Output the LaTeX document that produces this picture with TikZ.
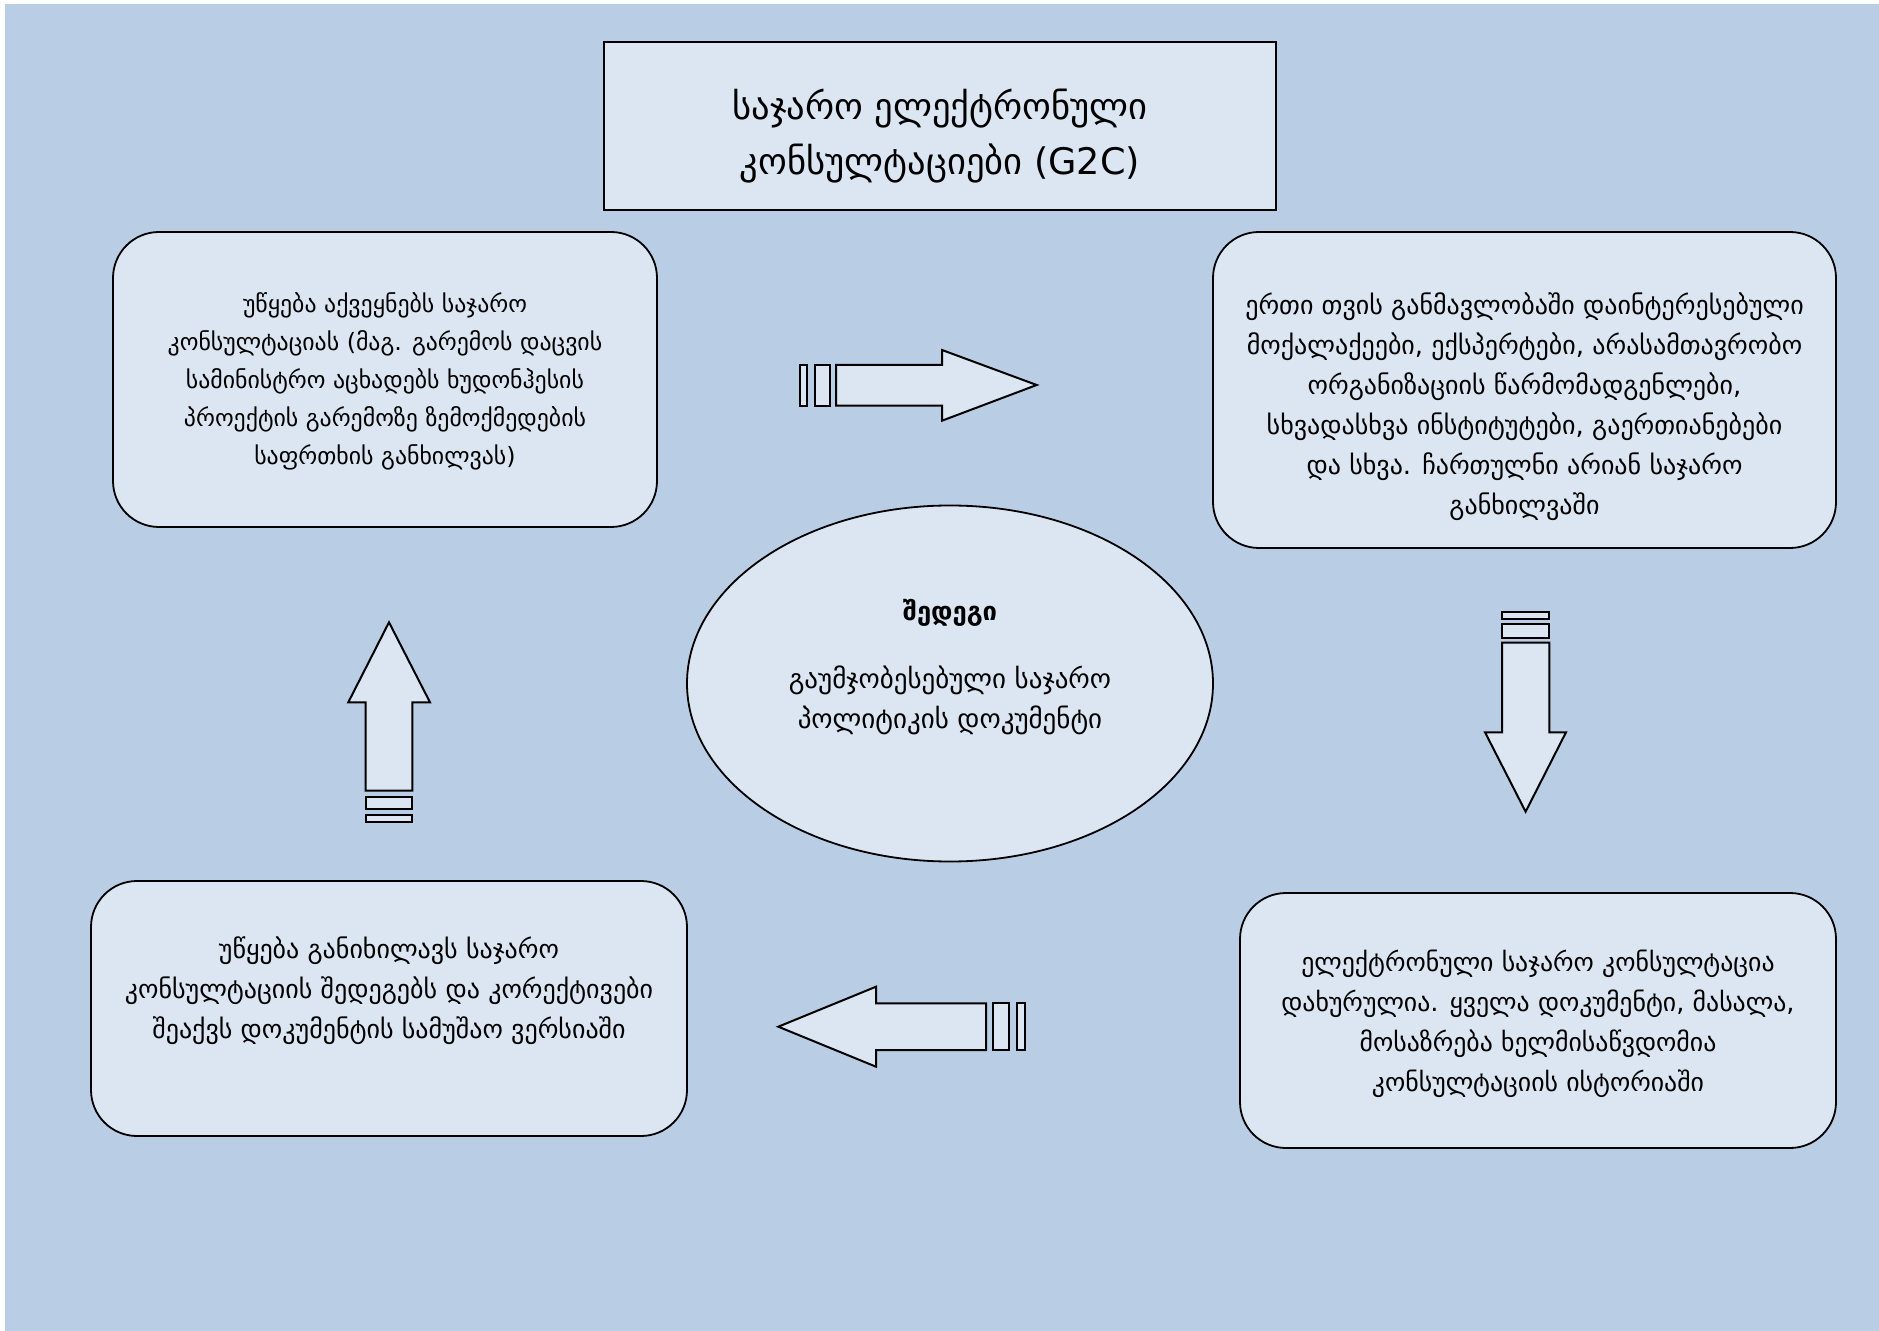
\documentclass[tikz,border=0pt]{standalone}
\usepackage{fontspec}
\newfontfamily\geo{DejaVu Sans}
\usetikzlibrary{shapes.geometric}
\definecolor{bgblue}{HTML}{B9CDE5}
\definecolor{boxfill}{HTML}{DCE6F2}
\tikzset{
  plainbox/.style={draw=black, line width=0.9pt, fill=boxfill, rectangle, inner sep=0pt},
  roundbox/.style={plainbox, rounded corners=23pt},
  oval/.style={draw=black, line width=0.9pt, fill=boxfill, ellipse, inner sep=0pt},
  txt/.style={align=center, font=\geo\fontsize{13}{20}\selectfont, inner sep=0pt},
  smalltxt/.style={align=center, font=\geo\fontsize{11.9}{19}\selectfont, inner sep=0pt},
  titletxt/.style={align=center, font=\geo\fontsize{18.3}{27.5}\selectfont, inner sep=0pt},
  blockarrow/.style={draw=black, line width=1pt, fill=boxfill, line join=miter},
}
\begin{document}
\begin{tikzpicture}[x=0.5pt, y=-0.5pt]
\useasboundingbox (0,0) rectangle (1879,1331);
\fill[bgblue] (5,4) rectangle (1879,1331);

% title
\node[plainbox, minimum width=336pt, minimum height=84pt] (title) at (940,126) {};
\node[titletxt] (titletext) at (940,136) {საჯარო ელექტრონული\\კონსულტაციები (G2C)};

% boxes
\node[roundbox, minimum width=272pt, minimum height=147.5pt] (tl) at (385,379.5) {};
\node[smalltxt] (tltext) at (385,381) {უწყება აქვეყნებს საჯარო\\კონსულტაციას (მაგ. გარემოს დაცვის\\სამინისტრო აცხადებს ხუდონჰესის\\პროექტის გარემოზე ზემოქმედების\\საფრთხის განხილვას)};

\node[roundbox, minimum width=311.5pt, minimum height=158pt] (tr) at (1524.5,390) {};
\node[txt] (trtext) at (1524.5,406.5) {ერთი თვის განმავლობაში დაინტერესებული\\მოქალაქეები, ექსპერტები, არასამთავრობო\\ორგანიზაციის წარმომადგენლები,\\სხვადასხვა ინსტიტუტები, გაერთიანებები\\და სხვა. ჩართულნი არიან საჯარო\\განხილვაში};

\node[roundbox, minimum width=298pt, minimum height=127.5pt] (bl) at (389,1008.5) {};
\node[txt] (bltext) at (389,991) {უწყება განიხილავს საჯარო\\კონსულტაციის შედეგებს და კორექტივები\\შეაქვს დოკუმენტის სამუშაო ვერსიაში};

\node[roundbox, minimum width=298pt, minimum height=127.5pt] (br) at (1538,1020.5) {};
\node[txt, font=\geo\fontsize{12.9}{20}\selectfont] (brtext) at (1538,1024) {ელექტრონული საჯარო კონსულტაცია\\დახურულია. ყველა დოკუმენტი, მასალა,\\მოსაზრება ხელმისაწვდომია\\კონსულტაციის ისტორიაში};

% ellipse
\node[oval, minimum width=263pt, minimum height=178pt] (res) at (950,683.5) {};
\node[txt, font=\geo\bfseries\fontsize{12.8}{20}\selectfont] (restitle) at (950,613) {შედეგი};
\node[txt, font=\geo\fontsize{13.5}{20}\selectfont] (restext) at (950,700) {გაუმჯობესებული საჯარო\\პოლიტიკის დოკუმენტი};

% right arrow (top)
\draw[blockarrow] (800,365) rectangle (807,405.7);
\draw[blockarrow] (815,365) rectangle (830,405.7);
\draw[blockarrow] (836,365) -- (942,365) -- (942,350) -- (1036.7,385) -- (942,420.7) -- (942,405.7) -- (836,405.7) -- cycle;

% down arrow (right)
\draw[blockarrow] (1502,612.3) rectangle (1549.3,619);
\draw[blockarrow] (1502,624) rectangle (1549.3,637.7);
\draw[blockarrow] (1502,642.7) -- (1549.3,642.7) -- (1549.3,732.3) -- (1566,732.3) -- (1525.6,811.7) -- (1485,732.3) -- (1502,732.3) -- cycle;

% left arrow (bottom)
\draw[blockarrow] (1016.7,1003.3) rectangle (1025,1050);
\draw[blockarrow] (993.3,1003.3) rectangle (1009.3,1050);
\draw[blockarrow] (986,1003.3) -- (876,1003.3) -- (876,986.7) -- (778.3,1026.7) -- (876,1066.7) -- (876,1050) -- (986,1050) -- cycle;

% up arrow (left)
\draw[blockarrow] (365.7,815) rectangle (412.3,821.7);
\draw[blockarrow] (365.7,796.7) rectangle (412.3,809.3);
\draw[blockarrow] (365.7,790.7) -- (412.3,790.7) -- (412.3,702.3) -- (430,702.3) -- (389,622.3) -- (348.3,702.3) -- (365.7,702.3) -- cycle;
\end{tikzpicture}
\end{document}
